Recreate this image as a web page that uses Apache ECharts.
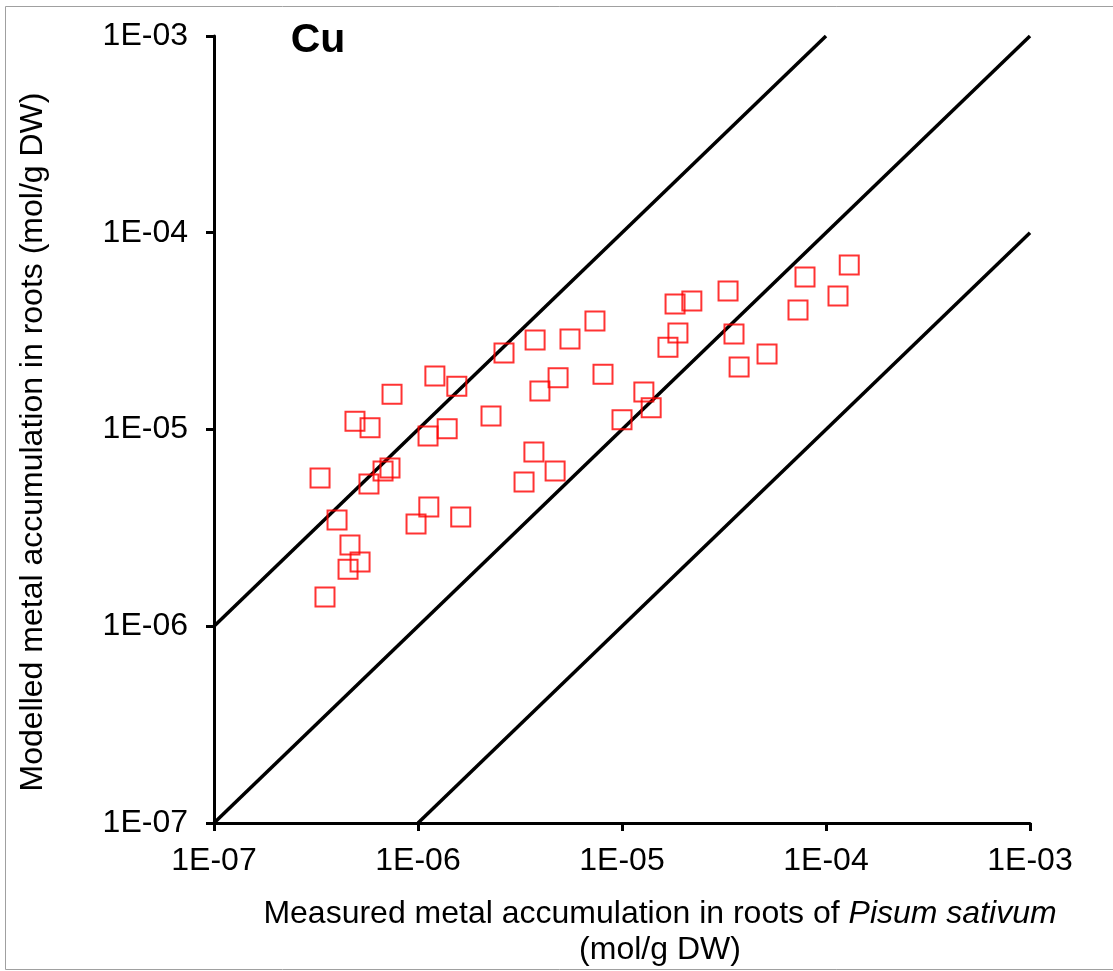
<!DOCTYPE html>
<html>
<head>
<meta charset="utf-8">
<style>
  html, body { margin: 0; padding: 0; background: #fff; }
  #chart { width: 1113px; height: 971px; }
</style>
<script src="https://cdn.jsdelivr.net/npm/echarts@6/dist/echarts.min.js"></script>
</head>
<body>
<div id="chart"></div>
<script>
// measured (x) vs modelled (y) Cu accumulation, mol/g DW
var measured = [
  3.31e-7, 3.50e-7, 4.01e-7, 4.64e-7, 4.54e-7, 5.20e-7, 4.91e-7, 5.82e-7, 5.75e-7, 6.74e-7,
  7.29e-7, 7.46e-7, 9.78e-7, 1.12e-6, 1.13e-6, 1.21e-6, 1.39e-6, 1.55e-6, 1.62e-6, 2.28e-6,
  2.64e-6, 3.31e-6, 3.70e-6, 3.75e-6, 3.96e-6, 4.70e-6, 4.86e-6, 5.56e-6, 7.37e-6, 8.07e-6,
  1.00e-5, 1.28e-5, 1.39e-5, 1.68e-5, 1.82e-5, 1.88e-5, 2.20e-5, 3.31e-5, 3.54e-5, 3.75e-5,
  5.14e-5, 7.29e-5, 7.89e-5, 1.145e-4, 1.30e-4
];
var modelled = [
  5.67e-6, 1.41e-6, 3.47e-6, 2.59e-6, 1.95e-6, 2.12e-6, 1.10e-5, 1.02e-5, 5.28e-6, 6.15e-6,
  6.37e-6, 1.51e-5, 3.31e-6, 9.27e-6, 4.04e-6, 1.87e-5, 1.01e-5, 1.66e-5, 3.59e-6, 1.17e-5,
  2.45e-5, 5.41e-6, 7.68e-6, 2.85e-5, 1.57e-5, 6.15e-6, 1.83e-5, 2.88e-5, 3.56e-5, 1.91e-5,
  1.12e-5, 1.55e-5, 1.29e-5, 2.62e-5, 4.35e-5, 3.09e-5, 4.50e-5, 5.06e-5, 3.06e-5, 2.08e-5,
  2.42e-5, 4.05e-5, 5.96e-5, 4.77e-5, 6.86e-5
];

// reference lines: 10x over, 1:1, 10x under
var lineUpper = [[1e-7, 1e-6], [1e-4, 1e-3]];
var lineEqual = [[1e-7, 1e-7], [1e-3, 1e-3]];
var lineLower = [[1e-6, 1e-7], [1e-3, 1e-4]];

var tickLabels = ['1E-07', '1E-06', '1E-05', '1E-04', '1E-03'];

var points = measured.map(function (m, i) { return [m, modelled[i]]; });

function fmt(v) {
  var e = Math.round(Math.log10(v));
  return tickLabels[e + 7] || '';
}

var font = 'Liberation Sans, Arial, sans-serif';
var axisCommon = {
  type: 'log',
  logBase: 10,
  min: 1e-7,
  max: 1e-3,
  axisLine: { show: true, lineStyle: { color: '#000', width: 3 } },
  axisTick: { show: true, inside: false, length: 8, lineStyle: { color: '#000', width: 3 } },
  minorTick: { show: false },
  splitLine: { show: false },
  axisLabel: { color: '#000', fontSize: 32, fontFamily: font, formatter: fmt }
};

var chart = echarts.init(document.getElementById('chart'));
chart.setOption({
  animation: false,
  backgroundColor: '#fff',
  grid: { left: 214, right: 83, top: 36, bottom: 148, containLabel: false, outerBoundsMode: 'none' },
  xAxis: Object.assign({}, axisCommon, {
    axisLabel: Object.assign({}, axisCommon.axisLabel, { margin: 22 })
  }),
  yAxis: Object.assign({}, axisCommon, {
    axisLabel: Object.assign({}, axisCommon.axisLabel, { margin: 26 })
  }),
  series: [
    { type: 'line', data: lineUpper, symbol: 'none', lineStyle: { color: '#000', width: 3.5 }, z: 2 },
    { type: 'line', data: lineEqual, symbol: 'none', lineStyle: { color: '#000', width: 3.5 }, z: 2 },
    { type: 'line', data: lineLower, symbol: 'none', lineStyle: { color: '#000', width: 3.5 }, z: 2 },
    {
      type: 'scatter',
      data: points,
      symbol: 'rect',
      symbolSize: 19,
      itemStyle: { color: 'rgba(0,0,0,0)', borderColor: '#ff0000', borderWidth: 2 },
      z: 3
    }
  ],
  graphic: [
    {
      type: 'rect', silent: true, z: 100,
      shape: { x: 5.5, y: 6.5, width: 1200, height: 963 },
      style: { fill: null, stroke: '#a0a0a0', lineWidth: 1 }
    },
    {
      type: 'text', x: 318, y: 41,
      style: { text: 'Cu', font: 'bold 41px ' + font, fill: '#000', align: 'center', verticalAlign: 'middle' }
    },
    {
      type: 'text', x: 33, y: 442, rotation: Math.PI / 2,
      style: {
        text: 'Modelled metal accumulation in roots (mol/g DW)',
        font: '32px ' + font, fill: '#000', align: 'center', verticalAlign: 'middle'
      }
    },
    {
      type: 'text', x: 660, y: 932,
      style: {
        text: '{a|Measured metal accumulation in roots of }{b|Pisum sativum}\n{a|(mol/g DW)}',
        align: 'center', verticalAlign: 'middle',
        rich: {
          a: { fontSize: 32, fontFamily: font, color: '#000', lineHeight: 36 },
          b: { fontSize: 32, fontFamily: font, fontStyle: 'italic', color: '#000', lineHeight: 36 }
        }
      }
    }
  ]
});
</script>
</body>
</html>
